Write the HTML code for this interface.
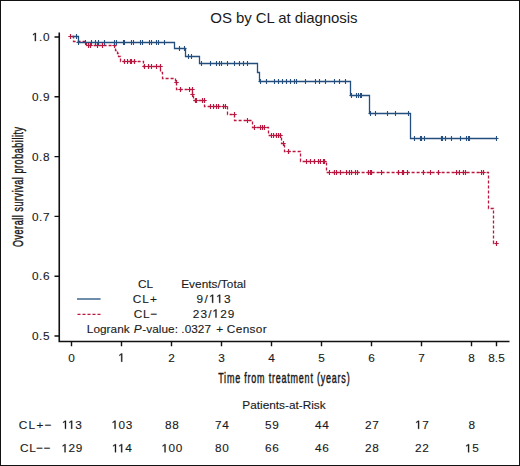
<!DOCTYPE html>
<html><head><meta charset="utf-8"><style>
html,body{margin:0;padding:0;background:#fff;}
body{width:520px;height:466px;overflow:hidden;}
.frame{position:absolute;left:0;top:0;width:518px;height:464px;border:1px solid #111;}
svg{position:absolute;left:0;top:0;}
text{font-family:"Liberation Sans",sans-serif;fill:#1a1a1a;stroke:#1a1a1a;stroke-width:0.12px;}
.tk{font-size:11.8px;}
.lg{font-size:11.8px;}
.ti{font-size:15px;stroke-width:0;}
.one{fill-opacity:0;stroke-opacity:0;}
.ax{font-size:14px;stroke:#1a1a1a;stroke-width:0.45px;letter-spacing:0.9px;}
</style></head><body>
<div class="frame"></div>
<svg width="520" height="466" viewBox="0 0 520 466">
<path d="M59.25,32.5V341.5H509.5" fill="none" stroke="#111" stroke-width="1.6"/>
<text x="50.1" y="41.10" text-anchor="end" class="tk" style="letter-spacing:0.6px"><tspan class="one">1</tspan>.0</text>
<text x="50.1" y="100.90" text-anchor="end" class="tk" style="letter-spacing:0.6px">0.9</text>
<text x="50.1" y="160.70" text-anchor="end" class="tk" style="letter-spacing:0.6px">0.8</text>
<text x="50.1" y="220.50" text-anchor="end" class="tk" style="letter-spacing:0.6px">0.7</text>
<text x="50.1" y="280.30" text-anchor="end" class="tk" style="letter-spacing:0.6px">0.6</text>
<text x="50.1" y="340.10" text-anchor="end" class="tk" style="letter-spacing:0.6px">0.5</text>
<text x="71.50" y="361.7" text-anchor="middle" class="tk">0</text>
<text x="121.50" y="361.7" text-anchor="middle" class="tk"><tspan class="one">1</tspan></text>
<text x="171.50" y="361.7" text-anchor="middle" class="tk">2</text>
<text x="221.50" y="361.7" text-anchor="middle" class="tk">3</text>
<text x="271.50" y="361.7" text-anchor="middle" class="tk">4</text>
<text x="321.50" y="361.7" text-anchor="middle" class="tk">5</text>
<text x="371.50" y="361.7" text-anchor="middle" class="tk">6</text>
<text x="421.50" y="361.7" text-anchor="middle" class="tk">7</text>
<text x="471.50" y="361.7" text-anchor="middle" class="tk">8</text>
<text x="496.50" y="361.7" text-anchor="middle" class="tk">8.5</text>
<path d="M54.5,37.00H59.25M54.5,96.80H59.25M54.5,156.60H59.25M54.5,216.40H59.25M54.5,276.20H59.25M54.5,336.00H59.25M71.50,341.5V346.3M121.50,341.5V346.3M171.50,341.5V346.3M221.50,341.5V346.3M271.50,341.5V346.3M321.50,341.5V346.3M371.50,341.5V346.3M421.50,341.5V346.3M471.50,341.5V346.3M496.50,341.5V346.3" fill="none" stroke="#111" stroke-width="1.4"/>
<path d="M71.50,36.50 H73.50 V41.50 H86.50 V45.50 H115.50 V50.50 H117.50 V53.50 H118.50 V56.50 H120.50 V61.50 H143.50 V66.50 H160.50 V72.50 H162.50 V78.50 H175.50 V82.50 H176.50 V89.50 H192.50 V94.50 H193.50 V100.50 H204.50 V106.50 H227.50 V114.50 H234.50 V120.50 H252.50 V127.50 H268.50 V135.50 H281.50 V143.50 H284.50 V151.50 H300.50 V161.50 H326.50 V172.50 H488.50 V208.50 H493.50 V243.50 H496.50" fill="none" stroke="#bb163e" stroke-width="1.3" stroke-dasharray="3 2" stroke-dashoffset="3.90"/>
<path d="M71.50,36.50 H78.50 V42.50 H174.50 V48.50 H185.50 V56.50 H199.50 V63.50 H257.50 V72.50 H259.50 V81.50 H350.50 V95.50 H369.50 V113.50 H410.50 V138.50 H496.50" fill="none" stroke="#234e7e" stroke-width="1.3"/>
<path d="M70.50,34.10v4.80M68.30,36.50h4.40M88.50,43.10v4.80M86.30,45.50h4.40M90.50,43.10v4.80M88.30,45.50h4.40M97.50,43.10v4.80M95.30,45.50h4.40M102.50,43.10v4.80M100.30,45.50h4.40M114.50,43.10v4.80M112.30,45.50h4.40M124.50,59.10v4.80M122.30,61.50h4.40M127.50,59.10v4.80M125.30,61.50h4.40M130.50,59.10v4.80M128.30,61.50h4.40M131.50,59.10v4.80M129.30,61.50h4.40M134.50,59.10v4.80M132.30,61.50h4.40M144.50,64.10v4.80M142.30,66.50h4.40M148.50,64.10v4.80M146.30,66.50h4.40M151.50,64.10v4.80M149.30,66.50h4.40M156.50,64.10v4.80M154.30,66.50h4.40M160.50,64.10v4.80M158.30,66.50h4.40M176.50,80.10v4.80M174.30,82.50h4.40M180.50,87.10v4.80M178.30,89.50h4.40M189.50,87.10v4.80M187.30,89.50h4.40M192.50,87.10v4.80M190.30,89.50h4.40M192.50,92.10v4.80M190.30,94.50h4.40M195.50,98.10v4.80M193.30,100.50h4.40M196.50,98.10v4.80M194.30,100.50h4.40M202.50,98.10v4.80M200.30,100.50h4.40M204.50,98.10v4.80M202.30,100.50h4.40M210.50,104.10v4.80M208.30,106.50h4.40M213.50,104.10v4.80M211.30,106.50h4.40M216.50,104.10v4.80M214.30,106.50h4.40M218.50,104.10v4.80M216.30,106.50h4.40M223.50,104.10v4.80M221.30,106.50h4.40M225.50,104.10v4.80M223.30,106.50h4.40M234.50,112.10v4.80M232.30,114.50h4.40M247.50,118.10v4.80M245.30,120.50h4.40M254.50,125.10v4.80M252.30,127.50h4.40M260.50,125.10v4.80M258.30,127.50h4.40M262.50,125.10v4.80M260.30,127.50h4.40M264.50,125.10v4.80M262.30,127.50h4.40M271.50,133.10v4.80M269.30,135.50h4.40M273.50,133.10v4.80M271.30,135.50h4.40M276.50,133.10v4.80M274.30,135.50h4.40M278.50,133.10v4.80M276.30,135.50h4.40M280.50,133.10v4.80M278.30,135.50h4.40M283.50,141.10v4.80M281.30,143.50h4.40M288.50,149.10v4.80M286.30,151.50h4.40M288.50,149.10v4.80M286.30,151.50h4.40M306.50,159.10v4.80M304.30,161.50h4.40M310.50,159.10v4.80M308.30,161.50h4.40M314.50,159.10v4.80M312.30,161.50h4.40M318.50,159.10v4.80M316.30,161.50h4.40M320.50,159.10v4.80M318.30,161.50h4.40M323.50,159.10v4.80M321.30,161.50h4.40M324.50,159.10v4.80M322.30,161.50h4.40M329.50,170.10v4.80M327.30,172.50h4.40M334.50,170.10v4.80M332.30,172.50h4.40M336.50,170.10v4.80M334.30,172.50h4.40M340.50,170.10v4.80M338.30,172.50h4.40M346.50,170.10v4.80M344.30,172.50h4.40M349.50,170.10v4.80M347.30,172.50h4.40M351.50,170.10v4.80M349.30,172.50h4.40M355.50,170.10v4.80M353.30,172.50h4.40M357.50,170.10v4.80M355.30,172.50h4.40M368.50,170.10v4.80M366.30,172.50h4.40M370.50,170.10v4.80M368.30,172.50h4.40M371.50,170.10v4.80M369.30,172.50h4.40M381.50,170.10v4.80M379.30,172.50h4.40M398.50,170.10v4.80M396.30,172.50h4.40M402.50,170.10v4.80M400.30,172.50h4.40M403.50,170.10v4.80M401.30,172.50h4.40M407.50,170.10v4.80M405.30,172.50h4.40M423.50,170.10v4.80M421.30,172.50h4.40M430.50,170.10v4.80M428.30,172.50h4.40M438.50,170.10v4.80M436.30,172.50h4.40M456.50,170.10v4.80M454.30,172.50h4.40M459.50,170.10v4.80M457.30,172.50h4.40M463.50,170.10v4.80M461.30,172.50h4.40M465.50,170.10v4.80M463.30,172.50h4.40M481.50,170.10v4.80M479.30,172.50h4.40M483.50,170.10v4.80M481.30,172.50h4.40M496.50,241.10v4.80M494.30,243.50h4.40" fill="none" stroke="#bb163e" stroke-width="1.15"/>
<path d="M76.50,34.10v4.80M74.50,36.50h4.00M78.50,40.10v4.80M76.50,42.50h4.00M85.50,40.10v4.80M83.50,42.50h4.00M91.50,40.10v4.80M89.50,42.50h4.00M95.50,40.10v4.80M93.50,42.50h4.00M98.50,40.10v4.80M96.50,42.50h4.00M104.50,40.10v4.80M102.50,42.50h4.00M114.50,40.10v4.80M112.50,42.50h4.00M116.50,40.10v4.80M114.50,42.50h4.00M123.50,40.10v4.80M121.50,42.50h4.00M124.50,40.10v4.80M122.50,42.50h4.00M131.50,40.10v4.80M129.50,42.50h4.00M133.50,40.10v4.80M131.50,42.50h4.00M140.50,40.10v4.80M138.50,42.50h4.00M142.50,40.10v4.80M140.50,42.50h4.00M149.50,40.10v4.80M147.50,42.50h4.00M151.50,40.10v4.80M149.50,42.50h4.00M156.50,40.10v4.80M154.50,42.50h4.00M158.50,40.10v4.80M156.50,42.50h4.00M164.50,40.10v4.80M162.50,42.50h4.00M179.50,46.10v4.80M177.50,48.50h4.00M184.50,46.10v4.80M182.50,48.50h4.00M188.50,54.10v4.80M186.50,56.50h4.00M191.50,54.10v4.80M189.50,56.50h4.00M201.50,61.10v4.80M199.50,63.50h4.00M210.50,61.10v4.80M208.50,63.50h4.00M216.50,61.10v4.80M214.50,63.50h4.00M219.50,61.10v4.80M217.50,63.50h4.00M221.50,61.10v4.80M219.50,63.50h4.00M227.50,61.10v4.80M225.50,63.50h4.00M234.50,61.10v4.80M232.50,63.50h4.00M239.50,61.10v4.80M237.50,63.50h4.00M243.50,61.10v4.80M241.50,63.50h4.00M247.50,61.10v4.80M245.50,63.50h4.00M260.50,79.10v4.80M258.50,81.50h4.00M266.50,79.10v4.80M264.50,81.50h4.00M274.50,79.10v4.80M272.50,81.50h4.00M278.50,79.10v4.80M276.50,81.50h4.00M282.50,79.10v4.80M280.50,81.50h4.00M286.50,79.10v4.80M284.50,81.50h4.00M290.50,79.10v4.80M288.50,81.50h4.00M294.50,79.10v4.80M292.50,81.50h4.00M296.50,79.10v4.80M294.50,81.50h4.00M305.50,79.10v4.80M303.50,81.50h4.00M315.50,79.10v4.80M313.50,81.50h4.00M319.50,79.10v4.80M317.50,81.50h4.00M325.50,79.10v4.80M323.50,81.50h4.00M334.50,79.10v4.80M332.50,81.50h4.00M339.50,79.10v4.80M337.50,81.50h4.00M345.50,79.10v4.80M343.50,81.50h4.00M351.50,93.10v4.80M349.50,95.50h4.00M356.50,93.10v4.80M354.50,95.50h4.00M358.50,93.10v4.80M356.50,95.50h4.00M360.50,93.10v4.80M358.50,95.50h4.00M361.50,93.10v4.80M359.50,95.50h4.00M370.50,111.10v4.80M368.50,113.50h4.00M375.50,111.10v4.80M373.50,113.50h4.00M387.50,111.10v4.80M385.50,113.50h4.00M395.50,111.10v4.80M393.50,113.50h4.00M408.50,111.10v4.80M406.50,113.50h4.00M408.50,111.10v4.80M406.50,113.50h4.00M414.50,136.10v4.80M412.50,138.50h4.00M420.50,136.10v4.80M418.50,138.50h4.00M421.50,136.10v4.80M419.50,138.50h4.00M424.50,136.10v4.80M422.50,138.50h4.00M441.50,136.10v4.80M439.50,138.50h4.00M442.50,136.10v4.80M440.50,138.50h4.00M445.50,136.10v4.80M443.50,138.50h4.00M451.50,136.10v4.80M449.50,138.50h4.00M460.50,136.10v4.80M458.50,138.50h4.00M466.50,136.10v4.80M464.50,138.50h4.00M468.50,136.10v4.80M466.50,138.50h4.00M469.50,136.10v4.80M467.50,138.50h4.00M496.50,136.10v4.80M494.50,138.50h4.00" fill="none" stroke="#234e7e" stroke-width="1.1"/>
<path d="M77,299H100.6" stroke="#234e7e" stroke-width="1.3"/>
<path d="M77.5,314.3H100.6" stroke="#bb163e" stroke-width="1.3" stroke-dasharray="3 2"/>
<text x="210.35" y="23.2" class="ti" style="letter-spacing:-0.081px">OS by CL at diagnosis</text>
<text x="137.92" y="287.6" class="lg" style="letter-spacing:0.000px">CL</text>
<text x="181.18" y="287.6" class="lg" style="letter-spacing:0.049px">Events/Total</text>
<text x="132.85" y="302.8" class="lg" style="letter-spacing:0.990px">CL+</text>
<text x="196.60" y="302.8" class="lg" style="letter-spacing:1.350px">9/<tspan class="one">1</tspan><tspan class="one">1</tspan>3</text>
<text x="133.68" y="317.6" class="lg" style="letter-spacing:0.900px">CL&#8722;</text>
<text x="192.85" y="317.6" class="lg" style="letter-spacing:1.080px">23/<tspan class="one">1</tspan>29</text>
<text x="86.85" y="332.6" class="lg" style="letter-spacing:0.030px">Logrank</text>
<text x="133.68" y="332.6" class="lg" style="letter-spacing:0.000px"><tspan font-style='italic'>P</tspan></text>
<text x="142.20" y="332.6" class="lg" style="letter-spacing:0.000px">-</text>
<text x="146.22" y="332.6" class="lg" style="letter-spacing:0.049px">value: .0327</text>
<text x="216.25" y="332.6" class="lg" style="letter-spacing:0.000px">+</text>
<text x="226.85" y="332.6" class="lg" style="letter-spacing:0.360px">Censor</text>
<text x="242.35" y="408.7" class="lg" style="letter-spacing:-0.000px">Patients-at-Risk</text>
<text x="18.68" y="428.8" class="lg" style="letter-spacing:1.380px">CL+&#8722;</text>
<text x="20.10" y="452.3" class="lg" style="letter-spacing:0.600px">CL&#8722;&#8722;</text>
<text transform="translate(23.3,186.7) rotate(-90) scale(0.64,1)" text-anchor="middle" class="ax">Overall survival probability</text>
<text transform="translate(284.3,382.5) scale(0.64,1)" text-anchor="middle" class="ax" style="letter-spacing:1.25px">Time from treatment (years)</text>
<text x="72.15" y="428.8" text-anchor="middle" class="lg" style="letter-spacing:0.5px"><tspan class="one">1</tspan><tspan class="one">1</tspan>3</text>
<text x="72.15" y="452.3" text-anchor="middle" class="lg" style="letter-spacing:0.5px"><tspan class="one">1</tspan>29</text>
<text x="122.15" y="428.8" text-anchor="middle" class="lg" style="letter-spacing:0.5px"><tspan class="one">1</tspan>03</text>
<text x="122.15" y="452.3" text-anchor="middle" class="lg" style="letter-spacing:0.5px"><tspan class="one">1</tspan><tspan class="one">1</tspan>4</text>
<text x="172.15" y="428.8" text-anchor="middle" class="lg" style="letter-spacing:0.5px">88</text>
<text x="172.15" y="452.3" text-anchor="middle" class="lg" style="letter-spacing:0.5px"><tspan class="one">1</tspan>00</text>
<text x="222.15" y="428.8" text-anchor="middle" class="lg" style="letter-spacing:0.5px">74</text>
<text x="222.15" y="452.3" text-anchor="middle" class="lg" style="letter-spacing:0.5px">80</text>
<text x="272.15" y="428.8" text-anchor="middle" class="lg" style="letter-spacing:0.5px">59</text>
<text x="272.15" y="452.3" text-anchor="middle" class="lg" style="letter-spacing:0.5px">66</text>
<text x="322.15" y="428.8" text-anchor="middle" class="lg" style="letter-spacing:0.5px">44</text>
<text x="322.15" y="452.3" text-anchor="middle" class="lg" style="letter-spacing:0.5px">46</text>
<text x="372.15" y="428.8" text-anchor="middle" class="lg" style="letter-spacing:0.5px">27</text>
<text x="372.15" y="452.3" text-anchor="middle" class="lg" style="letter-spacing:0.5px">28</text>
<text x="422.15" y="428.8" text-anchor="middle" class="lg" style="letter-spacing:0.5px"><tspan class="one">1</tspan>7</text>
<text x="422.15" y="452.3" text-anchor="middle" class="lg" style="letter-spacing:0.5px">22</text>
<text x="472.15" y="428.8" text-anchor="middle" class="lg" style="letter-spacing:0.5px">8</text>
<text x="472.15" y="452.3" text-anchor="middle" class="lg" style="letter-spacing:0.5px"><tspan class="one">1</tspan>5</text>
<path transform="translate(31.881,41.100) scale(0.005762,-0.005762)" d="M515,0L515,1237L197,1010L197,1180L530,1409L696,1409L696,0Z" fill="#1a1a1a" stroke="#1a1a1a" stroke-width="52.1"/>
<path transform="translate(118.219,361.700) scale(0.005762,-0.005762)" d="M515,0L515,1237L197,1010L197,1180L530,1409L696,1409L696,0Z" fill="#1a1a1a" stroke="#1a1a1a" stroke-width="52.1"/>
<path transform="translate(209.147,302.800) scale(0.005762,-0.005762)" d="M515,0L515,1237L197,1010L197,1180L530,1409L696,1409L696,0Z" fill="#1a1a1a" stroke="#1a1a1a" stroke-width="52.1"/>
<path transform="translate(216.194,302.800) scale(0.005762,-0.005762)" d="M515,0L515,1237L197,1010L197,1180L530,1409L696,1409L696,0Z" fill="#1a1a1a" stroke="#1a1a1a" stroke-width="52.1"/>
<path transform="translate(212.491,317.600) scale(0.005762,-0.005762)" d="M515,0L515,1237L197,1010L197,1180L530,1409L696,1409L696,0Z" fill="#1a1a1a" stroke="#1a1a1a" stroke-width="52.1"/>
<path transform="translate(61.994,428.800) scale(0.005762,-0.005762)" d="M515,0L515,1237L197,1010L197,1180L530,1409L696,1409L696,0Z" fill="#1a1a1a" stroke="#1a1a1a" stroke-width="52.1"/>
<path transform="translate(68.181,428.800) scale(0.005762,-0.005762)" d="M515,0L515,1237L197,1010L197,1180L530,1409L696,1409L696,0Z" fill="#1a1a1a" stroke="#1a1a1a" stroke-width="52.1"/>
<path transform="translate(61.556,452.300) scale(0.005762,-0.005762)" d="M515,0L515,1237L197,1010L197,1180L530,1409L696,1409L696,0Z" fill="#1a1a1a" stroke="#1a1a1a" stroke-width="52.1"/>
<path transform="translate(111.556,428.800) scale(0.005762,-0.005762)" d="M515,0L515,1237L197,1010L197,1180L530,1409L696,1409L696,0Z" fill="#1a1a1a" stroke="#1a1a1a" stroke-width="52.1"/>
<path transform="translate(111.994,452.300) scale(0.005762,-0.005762)" d="M515,0L515,1237L197,1010L197,1180L530,1409L696,1409L696,0Z" fill="#1a1a1a" stroke="#1a1a1a" stroke-width="52.1"/>
<path transform="translate(118.181,452.300) scale(0.005762,-0.005762)" d="M515,0L515,1237L197,1010L197,1180L530,1409L696,1409L696,0Z" fill="#1a1a1a" stroke="#1a1a1a" stroke-width="52.1"/>
<path transform="translate(161.556,452.300) scale(0.005762,-0.005762)" d="M515,0L515,1237L197,1010L197,1180L530,1409L696,1409L696,0Z" fill="#1a1a1a" stroke="#1a1a1a" stroke-width="52.1"/>
<path transform="translate(415.087,428.800) scale(0.005762,-0.005762)" d="M515,0L515,1237L197,1010L197,1180L530,1409L696,1409L696,0Z" fill="#1a1a1a" stroke="#1a1a1a" stroke-width="52.1"/>
<path transform="translate(465.087,452.300) scale(0.005762,-0.005762)" d="M515,0L515,1237L197,1010L197,1180L530,1409L696,1409L696,0Z" fill="#1a1a1a" stroke="#1a1a1a" stroke-width="52.1"/>
</svg>
</body></html>
